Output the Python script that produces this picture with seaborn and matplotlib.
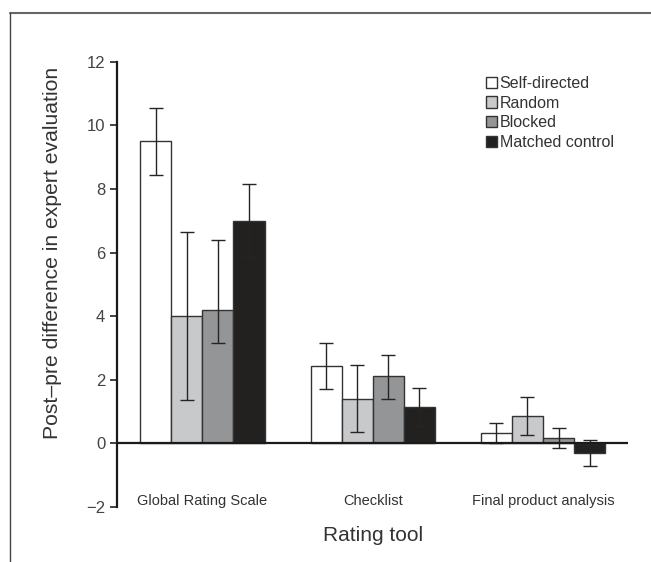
import numpy as np
import pandas as pd
import matplotlib
matplotlib.use("Agg")
import matplotlib.pyplot as plt
from matplotlib.lines import Line2D
import seaborn as sns

# Datos
herramientas = ["Global Rating Scale", "Checklist", "Final product analysis"]
grupos = ["Self-directed", "Random", "Blocked", "Matched control"]

self_directed = [9.5, 2.43, 0.31]
random_grp = [4.0, 1.41, 0.86]
blocked = [4.2, 2.12, 0.18]
matched = [7.0, 1.14, -0.31]

# extremos inferior / superior de las barras de error
low_self = [8.45, 1.70, 0.0]
high_self = [10.55, 3.15, 0.64]
low_random = [1.35, 0.36, 0.27]
high_random = [6.65, 2.45, 1.45]
low_blocked = [3.15, 1.40, -0.15]
high_blocked = [6.40, 2.77, 0.48]
low_matched = [5.85, 0.54, -0.72]
high_matched = [8.15, 1.75, 0.10]

colores = ["#ffffff", "#c8c9cb", "#939598", "#231f20"]

valores = [self_directed, random_grp, blocked, matched]
bajos = [low_self, low_random, low_blocked, low_matched]
altos = [high_self, high_random, high_blocked, high_matched]

filas = []
for g, vals in zip(grupos, valores):
    for h, v in zip(herramientas, vals):
        filas.append({"herramienta": h, "grupo": g, "valor": v})
df = pd.DataFrame(filas)

sns.set_style("white")
plt.rcParams["font.family"] = ["Liberation Sans", "DejaVu Sans"]

fig = plt.figure(figsize=(6.51, 5.62), dpi=100)
ax = fig.add_axes([0.18, 0.098, 0.785, 0.792])

sns.barplot(data=df, x="herramienta", y="valor", hue="grupo", order=herramientas,
            hue_order=grupos, palette=colores, errorbar=None, width=0.73,
            edgecolor="#333333", linewidth=1.0, ax=ax)

# Barras de error asimetricas, centradas en cada barra
for i, g in enumerate(grupos):
    for j in range(len(herramientas)):
        p = ax.patches[i * len(herramientas) + j]
        xc = p.get_x() + p.get_width() / 2
        v = valores[i][j]
        ax.errorbar(xc, v, yerr=[[v - bajos[i][j]], [altos[i][j] - v]],
                    fmt="none", ecolor="#262424", elinewidth=1.0,
                    capsize=4.7, capthick=1.0, zorder=3)

ax.set_ylim(-2, 12)
ax.set_xlim(-0.5, 2.5)
ax.set_yticks(range(-2, 13, 2))
ax.set_yticklabels(["\u22122"] + [str(t) for t in range(0, 13, 2)])
ax.tick_params(axis="y", direction="out", length=5, width=1.2, labelsize=12,
               colors="#222222", left=True)
ax.tick_params(axis="y", labelcolor="#444444")
ax.axhline(0, color="#1a1a1a", lw=1.6, zorder=4)

sns.despine(ax=ax, top=True, right=True, bottom=True)
ax.spines["left"].set_linewidth(1.6)
ax.spines["left"].set_color("#1a1a1a")

# etiquetas de categoria cerca del borde inferior
ax.set_xticks([])
for k, h in enumerate(herramientas):
    ax.text(k, -1.8, h, ha="center", va="center", fontsize=10.5, color="#333333")

ax.set_xlabel("Rating tool", fontsize=15, color="#333333", labelpad=14)
ax.set_ylabel("Post\u2013pre difference in expert evaluation", fontsize=15.2,
              color="#333333")
ax.yaxis.set_label_coords(-0.108, 0.57)

leg = ax.legend(loc="upper right", bbox_to_anchor=(0.99, 0.99), frameon=False,
                fontsize=11.5, handlelength=0.7, handleheight=0.7,
                handletextpad=0.15, labelspacing=0.3, borderaxespad=0.2)
for t in leg.get_texts():
    t.set_color("#333333")

# marco parcial de la figura (arriba e izquierda)
fig.add_artist(Line2D([0.015, 1.0], [0.977, 0.977], color="#666666", lw=1.5))
fig.add_artist(Line2D([0.015, 0.015], [0.0, 0.977], color="#444444", lw=1.0))

fig.savefig("out.png", dpi=100)
